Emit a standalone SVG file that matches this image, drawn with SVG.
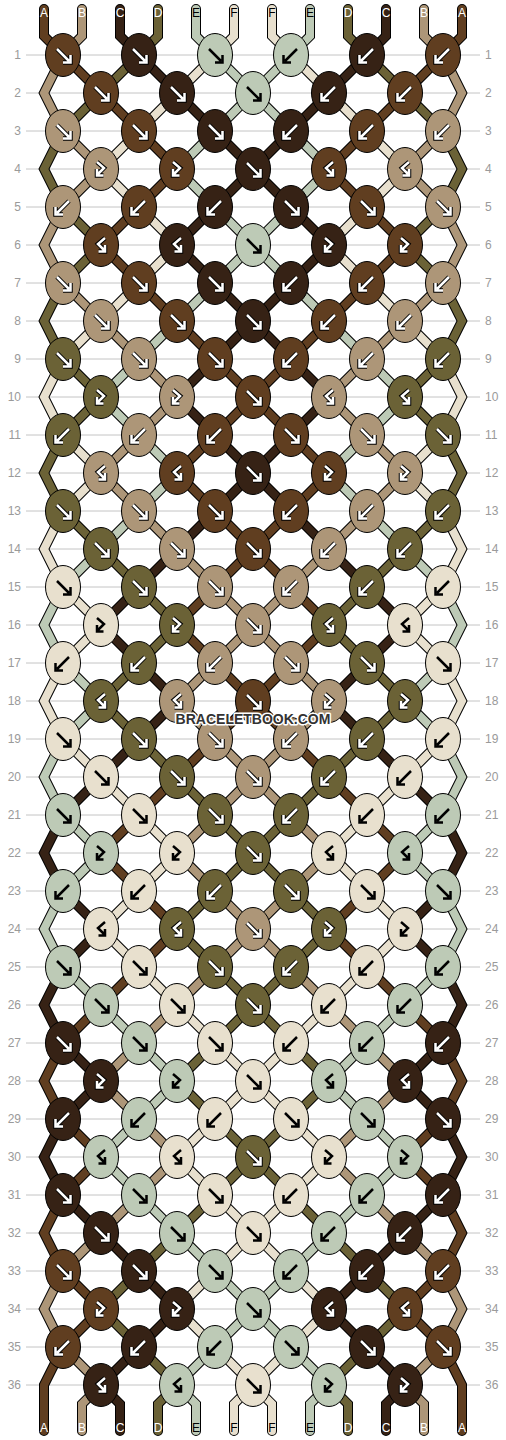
<svg xmlns="http://www.w3.org/2000/svg" xmlns:xlink="http://www.w3.org/1999/xlink" width="506" height="1440" viewBox="0 0 506 1440">
<style>
.rn{font-family:"Liberation Sans",Arial,sans-serif;font-size:12px;fill:#9a9a9a}
.sl{font-family:"Liberation Sans",Arial,sans-serif;font-size:12px;text-anchor:middle}
.A{fill:#603e20}.B{fill:#ad9678}.C{fill:#362215}.D{fill:#6b6236}.E{fill:#bdcab6}.F{fill:#e8e0ce}
.ao{fill:none;stroke:#000;stroke-width:4.5}
.aw{fill:none;stroke:#fff;stroke-width:2.5}
.ak{fill:none;stroke:#000;stroke-width:2.5}
</style>
<defs>
<ellipse id="ov" rx="17.5" ry="21.5" stroke="#000" stroke-width="1"/>
<path id="pf" d="M-6,-6 L6,6 M7.5,0 L7.5,7.5 L0,7.5"/>
<path id="pb" d="M6,-6 L-6,6 M-7.5,0 L-7.5,7.5 L0,7.5"/>
<path id="pfb" d="M-4,-7 L3,-1 L-3,5 M-4,0 L-4,6.5 L2.5,6.5"/>
<path id="pbf" d="M4,-7 L-3,-1 L3,5 M4,0 L4,6.5 L-2.5,6.5"/>
<g id="wf"><use href="#pf" class="ao"/><use href="#pf" class="aw"/></g>
<g id="wb"><use href="#pb" class="ao"/><use href="#pb" class="aw"/></g>
<g id="wfb"><use href="#pfb" class="ao"/><use href="#pfb" class="aw"/></g>
<g id="wbf"><use href="#pbf" class="ao"/><use href="#pbf" class="aw"/></g>
<g id="kf"><use href="#pf" class="ak"/></g>
<g id="kb"><use href="#pb" class="ak"/></g>
<g id="kfb"><use href="#pfb" class="ak"/></g>
<g id="kbf"><use href="#pbf" class="ak"/></g>
<g id="tA">
<path d="M44,9 44,36 63,55"/><path d="M63,1043 44,1081 63,1119"/><path d="M63,1195 44,1233 63,1271"/><path d="M63,1347 44,1385 44,1431"/>
<path d="M63,55 101,93"/><path d="M101,1005 63,1043"/><path d="M63,1119 101,1157 63,1195"/><path d="M63,1271 101,1309 63,1347"/>
<path d="M101,93 139,131"/><path d="M139,207 101,245 139,283"/><path d="M139,815 101,853 139,891"/><path d="M139,967 101,1005"/>
<path d="M139,131 177,169 139,207"/><path d="M139,283 177,321"/><path d="M177,777 139,815"/><path d="M139,891 177,929 139,967"/>
<path d="M177,321 215,359"/><path d="M215,435 177,473 215,511"/><path d="M215,587 177,625 215,663"/><path d="M215,739 177,777"/>
<path d="M215,359 253,397 215,435"/><path d="M215,511 253,549 215,587"/><path d="M215,663 253,701 215,739"/>
</g>
<g id="tB">
<path d="M63,55 44,93 63,131"/><path d="M63,207 44,245 63,283"/><path d="M63,1271 44,1309 63,1347"/>
<path d="M82,9 82,36 63,55"/><path d="M63,131 101,169 63,207"/><path d="M63,283 101,321"/><path d="M101,1233 63,1271"/><path d="M63,1347 101,1385 82,1404 82,1431"/>
<path d="M101,321 139,359"/><path d="M139,435 101,473 139,511"/><path d="M139,1043 101,1081 139,1119"/><path d="M139,1195 101,1233"/>
<path d="M139,359 177,397 139,435"/><path d="M139,511 177,549"/><path d="M177,1005 139,1043"/><path d="M139,1119 177,1157 139,1195"/>
<path d="M177,549 215,587"/><path d="M215,663 177,701 215,739"/><path d="M215,815 177,853 215,891"/><path d="M215,967 177,1005"/>
<path d="M215,587 253,625 215,663"/><path d="M215,739 253,777 215,815"/><path d="M215,891 253,929 215,967"/>
</g>
<g id="tC">
<path d="M63,815 44,853 63,891"/><path d="M63,967 44,1005 63,1043"/><path d="M63,1119 44,1157 63,1195"/>
<path d="M101,777 63,815"/><path d="M63,891 101,929 63,967"/><path d="M63,1043 101,1081 63,1119"/><path d="M63,1195 101,1233"/>
<path d="M120,9 120,36 139,55"/><path d="M139,587 101,625 139,663"/><path d="M139,739 101,777"/><path d="M101,1233 139,1271"/><path d="M139,1347 101,1385 120,1404 120,1431"/>
<path d="M139,55 177,93"/><path d="M177,549 139,587"/><path d="M139,663 177,701 139,739"/><path d="M139,1271 177,1309 139,1347"/>
<path d="M177,93 215,131"/><path d="M215,207 177,245 215,283"/><path d="M215,359 177,397 215,435"/><path d="M215,511 177,549"/>
<path d="M215,131 253,169 215,207"/><path d="M215,283 253,321 215,359"/><path d="M215,435 253,473 215,511"/>
</g>
<g id="tD">
<path d="M63,131 44,169 63,207"/><path d="M63,283 44,321 63,359"/><path d="M63,435 44,473 63,511"/>
<path d="M101,93 63,131"/><path d="M63,207 101,245 63,283"/><path d="M63,359 101,397 63,435"/><path d="M63,511 101,549"/>
<path d="M139,55 101,93"/><path d="M101,549 139,587"/><path d="M139,663 101,701 139,739"/><path d="M139,1271 101,1309 139,1347"/>
<path d="M158,9 158,36 139,55"/><path d="M139,587 177,625 139,663"/><path d="M139,739 177,777"/><path d="M177,1233 139,1271"/><path d="M139,1347 177,1385 158,1404 158,1431"/>
<path d="M177,777 215,815"/><path d="M215,891 177,929 215,967"/><path d="M215,1043 177,1081 215,1119"/><path d="M215,1195 177,1233"/>
<path d="M215,815 253,853 215,891"/><path d="M215,967 253,1005 215,1043"/><path d="M215,1119 253,1157 215,1195"/>
</g>
<g id="tE">
<path d="M63,587 44,625 63,663"/><path d="M63,739 44,777 63,815"/><path d="M63,891 44,929 63,967"/>
<path d="M101,549 63,587"/><path d="M63,663 101,701 63,739"/><path d="M63,815 101,853 63,891"/><path d="M63,967 101,1005"/>
<path d="M139,359 101,397 139,435"/><path d="M139,511 101,549"/><path d="M101,1005 139,1043"/><path d="M139,1119 101,1157 139,1195"/>
<path d="M177,321 139,359"/><path d="M139,435 177,473 139,511"/><path d="M139,1043 177,1081 139,1119"/><path d="M139,1195 177,1233"/>
<path d="M196,9 196,36 215,55"/><path d="M215,131 177,169 215,207"/><path d="M215,283 177,321"/><path d="M177,1233 215,1271"/><path d="M215,1347 177,1385 196,1404 196,1431"/>
<path d="M215,55 253,93 215,131"/><path d="M215,207 253,245 215,283"/><path d="M215,1271 253,1309 215,1347"/>
</g>
<g id="tF">
<path d="M63,359 44,397 63,435"/><path d="M63,511 44,549 63,587"/><path d="M63,663 44,701 63,739"/>
<path d="M101,321 63,359"/><path d="M63,435 101,473 63,511"/><path d="M63,587 101,625 63,663"/><path d="M63,739 101,777"/>
<path d="M139,131 101,169 139,207"/><path d="M139,283 101,321"/><path d="M101,777 139,815"/><path d="M139,891 101,929 139,967"/>
<path d="M177,93 139,131"/><path d="M139,207 177,245 139,283"/><path d="M139,815 177,853 139,891"/><path d="M139,967 177,1005"/>
<path d="M215,55 177,93"/><path d="M177,1005 215,1043"/><path d="M215,1119 177,1157 215,1195"/><path d="M215,1271 177,1309 215,1347"/>
<path d="M234,9 234,36 215,55"/><path d="M215,1043 253,1081 215,1119"/><path d="M215,1195 253,1233 215,1271"/><path d="M215,1347 253,1385 234,1404 234,1431"/>
</g>
<g id="tAll"><use href="#tA"/><use href="#tB"/><use href="#tC"/><use href="#tD"/><use href="#tE"/><use href="#tF"/></g>
</defs>
<rect width="506" height="1440" fill="#fff"/>
<g id="grid">
<path stroke="#c4c4c4" stroke-width="1" fill="none" d="M26,55H480M26,93H480M26,131H480M26,169H480M26,207H480M26,245H480M26,283H480M26,321H480M26,359H480M26,397H480M26,435H480M26,473H480M26,511H480M26,549H480M26,587H480M26,625H480M26,663H480M26,701H480M26,739H480M26,777H480M26,815H480M26,853H480M26,891H480M26,929H480M26,967H480M26,1005H480M26,1043H480M26,1081H480M26,1119H480M26,1157H480M26,1195H480M26,1233H480M26,1271H480M26,1309H480M26,1347H480M26,1385H480"/>
<g class="rn" text-anchor="end">
<text x="21" y="59">1</text><text x="21" y="97">2</text><text x="21" y="135">3</text><text x="21" y="173">4</text><text x="21" y="211">5</text><text x="21" y="249">6</text><text x="21" y="287">7</text><text x="21" y="325">8</text><text x="21" y="363">9</text><text x="21" y="401">10</text><text x="21" y="439">11</text><text x="21" y="477">12</text><text x="21" y="515">13</text><text x="21" y="553">14</text><text x="21" y="591">15</text><text x="21" y="629">16</text><text x="21" y="667">17</text><text x="21" y="705">18</text><text x="21" y="743">19</text><text x="21" y="781">20</text><text x="21" y="819">21</text><text x="21" y="857">22</text><text x="21" y="895">23</text><text x="21" y="933">24</text><text x="21" y="971">25</text><text x="21" y="1009">26</text><text x="21" y="1047">27</text><text x="21" y="1085">28</text><text x="21" y="1123">29</text><text x="21" y="1161">30</text><text x="21" y="1199">31</text><text x="21" y="1237">32</text><text x="21" y="1275">33</text><text x="21" y="1313">34</text><text x="21" y="1351">35</text><text x="21" y="1389">36</text>
</g>
<g class="rn">
<text x="485" y="59">1</text><text x="485" y="97">2</text><text x="485" y="135">3</text><text x="485" y="173">4</text><text x="485" y="211">5</text><text x="485" y="249">6</text><text x="485" y="287">7</text><text x="485" y="325">8</text><text x="485" y="363">9</text><text x="485" y="401">10</text><text x="485" y="439">11</text><text x="485" y="477">12</text><text x="485" y="515">13</text><text x="485" y="553">14</text><text x="485" y="591">15</text><text x="485" y="629">16</text><text x="485" y="667">17</text><text x="485" y="705">18</text><text x="485" y="743">19</text><text x="485" y="781">20</text><text x="485" y="819">21</text><text x="485" y="857">22</text><text x="485" y="895">23</text><text x="485" y="933">24</text><text x="485" y="971">25</text><text x="485" y="1009">26</text><text x="485" y="1047">27</text><text x="485" y="1085">28</text><text x="485" y="1123">29</text><text x="485" y="1161">30</text><text x="485" y="1199">31</text><text x="485" y="1237">32</text><text x="485" y="1275">33</text><text x="485" y="1313">34</text><text x="485" y="1351">35</text><text x="485" y="1389">36</text>
</g>
</g>
<g id="connectors" fill="none" stroke-linecap="round" stroke-linejoin="miter">
<g stroke="#000" stroke-width="10">
<use href="#tAll"/>
<use href="#tAll" transform="matrix(-1 0 0 1 506 0)"/>
</g>
<g stroke-width="8">
<use href="#tA" stroke="#603e20"/><use href="#tB" stroke="#ad9678"/><use href="#tC" stroke="#362215"/><use href="#tD" stroke="#6b6236"/><use href="#tE" stroke="#bdcab6"/><use href="#tF" stroke="#e8e0ce"/>
<g transform="matrix(-1 0 0 1 506 0)">
<use href="#tA" stroke="#603e20"/><use href="#tB" stroke="#ad9678"/><use href="#tC" stroke="#362215"/><use href="#tD" stroke="#6b6236"/><use href="#tE" stroke="#bdcab6"/><use href="#tF" stroke="#e8e0ce"/>
</g>
</g>
</g>
<g id="string-labels" class="sl">
<text x="44" y="17" fill="#fff">A</text><text x="82" y="17" fill="#fff">B</text><text x="120" y="17" fill="#fff">C</text><text x="158" y="17" fill="#fff">D</text><text x="196" y="17" fill="#000">E</text><text x="234" y="17" fill="#000">F</text><text x="272" y="17" fill="#000">F</text><text x="310" y="17" fill="#000">E</text><text x="348" y="17" fill="#fff">D</text><text x="386" y="17" fill="#fff">C</text><text x="424" y="17" fill="#fff">B</text><text x="462" y="17" fill="#fff">A</text>
<text x="44" y="1432" fill="#fff">A</text><text x="82" y="1432" fill="#fff">B</text><text x="120" y="1432" fill="#fff">C</text><text x="158" y="1432" fill="#fff">D</text><text x="196" y="1432" fill="#000">E</text><text x="234" y="1432" fill="#000">F</text><text x="272" y="1432" fill="#000">F</text><text x="310" y="1432" fill="#000">E</text><text x="348" y="1432" fill="#fff">D</text><text x="386" y="1432" fill="#fff">C</text><text x="424" y="1432" fill="#fff">B</text><text x="462" y="1432" fill="#fff">A</text>
</g>
<g id="knots">
<g id="k1-1" transform="translate(63 55)"><use href="#ov" class="A"/><use href="#wf"/></g>
<g id="k1-2" transform="translate(139 55)"><use href="#ov" class="C"/><use href="#wf"/></g>
<g id="k1-3" transform="translate(215 55)"><use href="#ov" class="E"/><use href="#kf"/></g>
<g id="k1-4" transform="translate(291 55)"><use href="#ov" class="E"/><use href="#kb"/></g>
<g id="k1-5" transform="translate(367 55)"><use href="#ov" class="C"/><use href="#wb"/></g>
<g id="k1-6" transform="translate(443 55)"><use href="#ov" class="A"/><use href="#wb"/></g>
<g id="k2-1" transform="translate(101 93)"><use href="#ov" class="A"/><use href="#wf"/></g>
<g id="k2-2" transform="translate(177 93)"><use href="#ov" class="C"/><use href="#wf"/></g>
<g id="k2-3" transform="translate(253 93)"><use href="#ov" class="E"/><use href="#kf"/></g>
<g id="k2-4" transform="translate(329 93)"><use href="#ov" class="C"/><use href="#wb"/></g>
<g id="k2-5" transform="translate(405 93)"><use href="#ov" class="A"/><use href="#wb"/></g>
<g id="k3-1" transform="translate(63 131)"><use href="#ov" class="B"/><use href="#wf"/></g>
<g id="k3-2" transform="translate(139 131)"><use href="#ov" class="A"/><use href="#wf"/></g>
<g id="k3-3" transform="translate(215 131)"><use href="#ov" class="C"/><use href="#wf"/></g>
<g id="k3-4" transform="translate(291 131)"><use href="#ov" class="C"/><use href="#wb"/></g>
<g id="k3-5" transform="translate(367 131)"><use href="#ov" class="A"/><use href="#wb"/></g>
<g id="k3-6" transform="translate(443 131)"><use href="#ov" class="B"/><use href="#wb"/></g>
<g id="k4-1" transform="translate(101 169)"><use href="#ov" class="B"/><use href="#wfb"/></g>
<g id="k4-2" transform="translate(177 169)"><use href="#ov" class="A"/><use href="#wfb"/></g>
<g id="k4-3" transform="translate(253 169)"><use href="#ov" class="C"/><use href="#wf"/></g>
<g id="k4-4" transform="translate(329 169)"><use href="#ov" class="A"/><use href="#wbf"/></g>
<g id="k4-5" transform="translate(405 169)"><use href="#ov" class="B"/><use href="#wbf"/></g>
<g id="k5-1" transform="translate(63 207)"><use href="#ov" class="B"/><use href="#wb"/></g>
<g id="k5-2" transform="translate(139 207)"><use href="#ov" class="A"/><use href="#wb"/></g>
<g id="k5-3" transform="translate(215 207)"><use href="#ov" class="C"/><use href="#wb"/></g>
<g id="k5-4" transform="translate(291 207)"><use href="#ov" class="C"/><use href="#wf"/></g>
<g id="k5-5" transform="translate(367 207)"><use href="#ov" class="A"/><use href="#wf"/></g>
<g id="k5-6" transform="translate(443 207)"><use href="#ov" class="B"/><use href="#wf"/></g>
<g id="k6-1" transform="translate(101 245)"><use href="#ov" class="A"/><use href="#wbf"/></g>
<g id="k6-2" transform="translate(177 245)"><use href="#ov" class="C"/><use href="#wbf"/></g>
<g id="k6-3" transform="translate(253 245)"><use href="#ov" class="E"/><use href="#kf"/></g>
<g id="k6-4" transform="translate(329 245)"><use href="#ov" class="C"/><use href="#wfb"/></g>
<g id="k6-5" transform="translate(405 245)"><use href="#ov" class="A"/><use href="#wfb"/></g>
<g id="k7-1" transform="translate(63 283)"><use href="#ov" class="B"/><use href="#wf"/></g>
<g id="k7-2" transform="translate(139 283)"><use href="#ov" class="A"/><use href="#wf"/></g>
<g id="k7-3" transform="translate(215 283)"><use href="#ov" class="C"/><use href="#wf"/></g>
<g id="k7-4" transform="translate(291 283)"><use href="#ov" class="C"/><use href="#wb"/></g>
<g id="k7-5" transform="translate(367 283)"><use href="#ov" class="A"/><use href="#wb"/></g>
<g id="k7-6" transform="translate(443 283)"><use href="#ov" class="B"/><use href="#wb"/></g>
<g id="k8-1" transform="translate(101 321)"><use href="#ov" class="B"/><use href="#wf"/></g>
<g id="k8-2" transform="translate(177 321)"><use href="#ov" class="A"/><use href="#wf"/></g>
<g id="k8-3" transform="translate(253 321)"><use href="#ov" class="C"/><use href="#wf"/></g>
<g id="k8-4" transform="translate(329 321)"><use href="#ov" class="A"/><use href="#wb"/></g>
<g id="k8-5" transform="translate(405 321)"><use href="#ov" class="B"/><use href="#wb"/></g>
<g id="k9-1" transform="translate(63 359)"><use href="#ov" class="D"/><use href="#wf"/></g>
<g id="k9-2" transform="translate(139 359)"><use href="#ov" class="B"/><use href="#wf"/></g>
<g id="k9-3" transform="translate(215 359)"><use href="#ov" class="A"/><use href="#wf"/></g>
<g id="k9-4" transform="translate(291 359)"><use href="#ov" class="A"/><use href="#wb"/></g>
<g id="k9-5" transform="translate(367 359)"><use href="#ov" class="B"/><use href="#wb"/></g>
<g id="k9-6" transform="translate(443 359)"><use href="#ov" class="D"/><use href="#wb"/></g>
<g id="k10-1" transform="translate(101 397)"><use href="#ov" class="D"/><use href="#wfb"/></g>
<g id="k10-2" transform="translate(177 397)"><use href="#ov" class="B"/><use href="#wfb"/></g>
<g id="k10-3" transform="translate(253 397)"><use href="#ov" class="A"/><use href="#wf"/></g>
<g id="k10-4" transform="translate(329 397)"><use href="#ov" class="B"/><use href="#wbf"/></g>
<g id="k10-5" transform="translate(405 397)"><use href="#ov" class="D"/><use href="#wbf"/></g>
<g id="k11-1" transform="translate(63 435)"><use href="#ov" class="D"/><use href="#wb"/></g>
<g id="k11-2" transform="translate(139 435)"><use href="#ov" class="B"/><use href="#wb"/></g>
<g id="k11-3" transform="translate(215 435)"><use href="#ov" class="A"/><use href="#wb"/></g>
<g id="k11-4" transform="translate(291 435)"><use href="#ov" class="A"/><use href="#wf"/></g>
<g id="k11-5" transform="translate(367 435)"><use href="#ov" class="B"/><use href="#wf"/></g>
<g id="k11-6" transform="translate(443 435)"><use href="#ov" class="D"/><use href="#wf"/></g>
<g id="k12-1" transform="translate(101 473)"><use href="#ov" class="B"/><use href="#wbf"/></g>
<g id="k12-2" transform="translate(177 473)"><use href="#ov" class="A"/><use href="#wbf"/></g>
<g id="k12-3" transform="translate(253 473)"><use href="#ov" class="C"/><use href="#wf"/></g>
<g id="k12-4" transform="translate(329 473)"><use href="#ov" class="A"/><use href="#wfb"/></g>
<g id="k12-5" transform="translate(405 473)"><use href="#ov" class="B"/><use href="#wfb"/></g>
<g id="k13-1" transform="translate(63 511)"><use href="#ov" class="D"/><use href="#wf"/></g>
<g id="k13-2" transform="translate(139 511)"><use href="#ov" class="B"/><use href="#wf"/></g>
<g id="k13-3" transform="translate(215 511)"><use href="#ov" class="A"/><use href="#wf"/></g>
<g id="k13-4" transform="translate(291 511)"><use href="#ov" class="A"/><use href="#wb"/></g>
<g id="k13-5" transform="translate(367 511)"><use href="#ov" class="B"/><use href="#wb"/></g>
<g id="k13-6" transform="translate(443 511)"><use href="#ov" class="D"/><use href="#wb"/></g>
<g id="k14-1" transform="translate(101 549)"><use href="#ov" class="D"/><use href="#wf"/></g>
<g id="k14-2" transform="translate(177 549)"><use href="#ov" class="B"/><use href="#wf"/></g>
<g id="k14-3" transform="translate(253 549)"><use href="#ov" class="A"/><use href="#wf"/></g>
<g id="k14-4" transform="translate(329 549)"><use href="#ov" class="B"/><use href="#wb"/></g>
<g id="k14-5" transform="translate(405 549)"><use href="#ov" class="D"/><use href="#wb"/></g>
<g id="k15-1" transform="translate(63 587)"><use href="#ov" class="F"/><use href="#kf"/></g>
<g id="k15-2" transform="translate(139 587)"><use href="#ov" class="D"/><use href="#wf"/></g>
<g id="k15-3" transform="translate(215 587)"><use href="#ov" class="B"/><use href="#wf"/></g>
<g id="k15-4" transform="translate(291 587)"><use href="#ov" class="B"/><use href="#wb"/></g>
<g id="k15-5" transform="translate(367 587)"><use href="#ov" class="D"/><use href="#wb"/></g>
<g id="k15-6" transform="translate(443 587)"><use href="#ov" class="F"/><use href="#kb"/></g>
<g id="k16-1" transform="translate(101 625)"><use href="#ov" class="F"/><use href="#kfb"/></g>
<g id="k16-2" transform="translate(177 625)"><use href="#ov" class="D"/><use href="#wfb"/></g>
<g id="k16-3" transform="translate(253 625)"><use href="#ov" class="B"/><use href="#wf"/></g>
<g id="k16-4" transform="translate(329 625)"><use href="#ov" class="D"/><use href="#wbf"/></g>
<g id="k16-5" transform="translate(405 625)"><use href="#ov" class="F"/><use href="#kbf"/></g>
<g id="k17-1" transform="translate(63 663)"><use href="#ov" class="F"/><use href="#kb"/></g>
<g id="k17-2" transform="translate(139 663)"><use href="#ov" class="D"/><use href="#wb"/></g>
<g id="k17-3" transform="translate(215 663)"><use href="#ov" class="B"/><use href="#wb"/></g>
<g id="k17-4" transform="translate(291 663)"><use href="#ov" class="B"/><use href="#wf"/></g>
<g id="k17-5" transform="translate(367 663)"><use href="#ov" class="D"/><use href="#wf"/></g>
<g id="k17-6" transform="translate(443 663)"><use href="#ov" class="F"/><use href="#kf"/></g>
<g id="k18-1" transform="translate(101 701)"><use href="#ov" class="D"/><use href="#wbf"/></g>
<g id="k18-2" transform="translate(177 701)"><use href="#ov" class="B"/><use href="#wbf"/></g>
<g id="k18-3" transform="translate(253 701)"><use href="#ov" class="A"/><use href="#wf"/></g>
<g id="k18-4" transform="translate(329 701)"><use href="#ov" class="B"/><use href="#wfb"/></g>
<g id="k18-5" transform="translate(405 701)"><use href="#ov" class="D"/><use href="#wfb"/></g>
<g id="k19-1" transform="translate(63 739)"><use href="#ov" class="F"/><use href="#kf"/></g>
<g id="k19-2" transform="translate(139 739)"><use href="#ov" class="D"/><use href="#wf"/></g>
<g id="k19-3" transform="translate(215 739)"><use href="#ov" class="B"/><use href="#wf"/></g>
<g id="k19-4" transform="translate(291 739)"><use href="#ov" class="B"/><use href="#wb"/></g>
<g id="k19-5" transform="translate(367 739)"><use href="#ov" class="D"/><use href="#wb"/></g>
<g id="k19-6" transform="translate(443 739)"><use href="#ov" class="F"/><use href="#kb"/></g>
<g id="k20-1" transform="translate(101 777)"><use href="#ov" class="F"/><use href="#kf"/></g>
<g id="k20-2" transform="translate(177 777)"><use href="#ov" class="D"/><use href="#wf"/></g>
<g id="k20-3" transform="translate(253 777)"><use href="#ov" class="B"/><use href="#wf"/></g>
<g id="k20-4" transform="translate(329 777)"><use href="#ov" class="D"/><use href="#wb"/></g>
<g id="k20-5" transform="translate(405 777)"><use href="#ov" class="F"/><use href="#kb"/></g>
<g id="k21-1" transform="translate(63 815)"><use href="#ov" class="E"/><use href="#kf"/></g>
<g id="k21-2" transform="translate(139 815)"><use href="#ov" class="F"/><use href="#kf"/></g>
<g id="k21-3" transform="translate(215 815)"><use href="#ov" class="D"/><use href="#wf"/></g>
<g id="k21-4" transform="translate(291 815)"><use href="#ov" class="D"/><use href="#wb"/></g>
<g id="k21-5" transform="translate(367 815)"><use href="#ov" class="F"/><use href="#kb"/></g>
<g id="k21-6" transform="translate(443 815)"><use href="#ov" class="E"/><use href="#kb"/></g>
<g id="k22-1" transform="translate(101 853)"><use href="#ov" class="E"/><use href="#kfb"/></g>
<g id="k22-2" transform="translate(177 853)"><use href="#ov" class="F"/><use href="#kfb"/></g>
<g id="k22-3" transform="translate(253 853)"><use href="#ov" class="D"/><use href="#wf"/></g>
<g id="k22-4" transform="translate(329 853)"><use href="#ov" class="F"/><use href="#kbf"/></g>
<g id="k22-5" transform="translate(405 853)"><use href="#ov" class="E"/><use href="#kbf"/></g>
<g id="k23-1" transform="translate(63 891)"><use href="#ov" class="E"/><use href="#kb"/></g>
<g id="k23-2" transform="translate(139 891)"><use href="#ov" class="F"/><use href="#kb"/></g>
<g id="k23-3" transform="translate(215 891)"><use href="#ov" class="D"/><use href="#wb"/></g>
<g id="k23-4" transform="translate(291 891)"><use href="#ov" class="D"/><use href="#wf"/></g>
<g id="k23-5" transform="translate(367 891)"><use href="#ov" class="F"/><use href="#kf"/></g>
<g id="k23-6" transform="translate(443 891)"><use href="#ov" class="E"/><use href="#kf"/></g>
<g id="k24-1" transform="translate(101 929)"><use href="#ov" class="F"/><use href="#kbf"/></g>
<g id="k24-2" transform="translate(177 929)"><use href="#ov" class="D"/><use href="#wbf"/></g>
<g id="k24-3" transform="translate(253 929)"><use href="#ov" class="B"/><use href="#wf"/></g>
<g id="k24-4" transform="translate(329 929)"><use href="#ov" class="D"/><use href="#wfb"/></g>
<g id="k24-5" transform="translate(405 929)"><use href="#ov" class="F"/><use href="#kfb"/></g>
<g id="k25-1" transform="translate(63 967)"><use href="#ov" class="E"/><use href="#kf"/></g>
<g id="k25-2" transform="translate(139 967)"><use href="#ov" class="F"/><use href="#kf"/></g>
<g id="k25-3" transform="translate(215 967)"><use href="#ov" class="D"/><use href="#wf"/></g>
<g id="k25-4" transform="translate(291 967)"><use href="#ov" class="D"/><use href="#wb"/></g>
<g id="k25-5" transform="translate(367 967)"><use href="#ov" class="F"/><use href="#kb"/></g>
<g id="k25-6" transform="translate(443 967)"><use href="#ov" class="E"/><use href="#kb"/></g>
<g id="k26-1" transform="translate(101 1005)"><use href="#ov" class="E"/><use href="#kf"/></g>
<g id="k26-2" transform="translate(177 1005)"><use href="#ov" class="F"/><use href="#kf"/></g>
<g id="k26-3" transform="translate(253 1005)"><use href="#ov" class="D"/><use href="#wf"/></g>
<g id="k26-4" transform="translate(329 1005)"><use href="#ov" class="F"/><use href="#kb"/></g>
<g id="k26-5" transform="translate(405 1005)"><use href="#ov" class="E"/><use href="#kb"/></g>
<g id="k27-1" transform="translate(63 1043)"><use href="#ov" class="C"/><use href="#wf"/></g>
<g id="k27-2" transform="translate(139 1043)"><use href="#ov" class="E"/><use href="#kf"/></g>
<g id="k27-3" transform="translate(215 1043)"><use href="#ov" class="F"/><use href="#kf"/></g>
<g id="k27-4" transform="translate(291 1043)"><use href="#ov" class="F"/><use href="#kb"/></g>
<g id="k27-5" transform="translate(367 1043)"><use href="#ov" class="E"/><use href="#kb"/></g>
<g id="k27-6" transform="translate(443 1043)"><use href="#ov" class="C"/><use href="#wb"/></g>
<g id="k28-1" transform="translate(101 1081)"><use href="#ov" class="C"/><use href="#wfb"/></g>
<g id="k28-2" transform="translate(177 1081)"><use href="#ov" class="E"/><use href="#kfb"/></g>
<g id="k28-3" transform="translate(253 1081)"><use href="#ov" class="F"/><use href="#kf"/></g>
<g id="k28-4" transform="translate(329 1081)"><use href="#ov" class="E"/><use href="#kbf"/></g>
<g id="k28-5" transform="translate(405 1081)"><use href="#ov" class="C"/><use href="#wbf"/></g>
<g id="k29-1" transform="translate(63 1119)"><use href="#ov" class="C"/><use href="#wb"/></g>
<g id="k29-2" transform="translate(139 1119)"><use href="#ov" class="E"/><use href="#kb"/></g>
<g id="k29-3" transform="translate(215 1119)"><use href="#ov" class="F"/><use href="#kb"/></g>
<g id="k29-4" transform="translate(291 1119)"><use href="#ov" class="F"/><use href="#kf"/></g>
<g id="k29-5" transform="translate(367 1119)"><use href="#ov" class="E"/><use href="#kf"/></g>
<g id="k29-6" transform="translate(443 1119)"><use href="#ov" class="C"/><use href="#wf"/></g>
<g id="k30-1" transform="translate(101 1157)"><use href="#ov" class="E"/><use href="#kbf"/></g>
<g id="k30-2" transform="translate(177 1157)"><use href="#ov" class="F"/><use href="#kbf"/></g>
<g id="k30-3" transform="translate(253 1157)"><use href="#ov" class="D"/><use href="#wf"/></g>
<g id="k30-4" transform="translate(329 1157)"><use href="#ov" class="F"/><use href="#kfb"/></g>
<g id="k30-5" transform="translate(405 1157)"><use href="#ov" class="E"/><use href="#kfb"/></g>
<g id="k31-1" transform="translate(63 1195)"><use href="#ov" class="C"/><use href="#wf"/></g>
<g id="k31-2" transform="translate(139 1195)"><use href="#ov" class="E"/><use href="#kf"/></g>
<g id="k31-3" transform="translate(215 1195)"><use href="#ov" class="F"/><use href="#kf"/></g>
<g id="k31-4" transform="translate(291 1195)"><use href="#ov" class="F"/><use href="#kb"/></g>
<g id="k31-5" transform="translate(367 1195)"><use href="#ov" class="E"/><use href="#kb"/></g>
<g id="k31-6" transform="translate(443 1195)"><use href="#ov" class="C"/><use href="#wb"/></g>
<g id="k32-1" transform="translate(101 1233)"><use href="#ov" class="C"/><use href="#wf"/></g>
<g id="k32-2" transform="translate(177 1233)"><use href="#ov" class="E"/><use href="#kf"/></g>
<g id="k32-3" transform="translate(253 1233)"><use href="#ov" class="F"/><use href="#kf"/></g>
<g id="k32-4" transform="translate(329 1233)"><use href="#ov" class="E"/><use href="#kb"/></g>
<g id="k32-5" transform="translate(405 1233)"><use href="#ov" class="C"/><use href="#wb"/></g>
<g id="k33-1" transform="translate(63 1271)"><use href="#ov" class="A"/><use href="#wf"/></g>
<g id="k33-2" transform="translate(139 1271)"><use href="#ov" class="C"/><use href="#wf"/></g>
<g id="k33-3" transform="translate(215 1271)"><use href="#ov" class="E"/><use href="#kf"/></g>
<g id="k33-4" transform="translate(291 1271)"><use href="#ov" class="E"/><use href="#kb"/></g>
<g id="k33-5" transform="translate(367 1271)"><use href="#ov" class="C"/><use href="#wb"/></g>
<g id="k33-6" transform="translate(443 1271)"><use href="#ov" class="A"/><use href="#wb"/></g>
<g id="k34-1" transform="translate(101 1309)"><use href="#ov" class="A"/><use href="#wfb"/></g>
<g id="k34-2" transform="translate(177 1309)"><use href="#ov" class="C"/><use href="#wfb"/></g>
<g id="k34-3" transform="translate(253 1309)"><use href="#ov" class="E"/><use href="#kf"/></g>
<g id="k34-4" transform="translate(329 1309)"><use href="#ov" class="C"/><use href="#wbf"/></g>
<g id="k34-5" transform="translate(405 1309)"><use href="#ov" class="A"/><use href="#wbf"/></g>
<g id="k35-1" transform="translate(63 1347)"><use href="#ov" class="A"/><use href="#wb"/></g>
<g id="k35-2" transform="translate(139 1347)"><use href="#ov" class="C"/><use href="#wb"/></g>
<g id="k35-3" transform="translate(215 1347)"><use href="#ov" class="E"/><use href="#kb"/></g>
<g id="k35-4" transform="translate(291 1347)"><use href="#ov" class="E"/><use href="#kf"/></g>
<g id="k35-5" transform="translate(367 1347)"><use href="#ov" class="C"/><use href="#wf"/></g>
<g id="k35-6" transform="translate(443 1347)"><use href="#ov" class="A"/><use href="#wf"/></g>
<g id="k36-1" transform="translate(101 1385)"><use href="#ov" class="C"/><use href="#wbf"/></g>
<g id="k36-2" transform="translate(177 1385)"><use href="#ov" class="E"/><use href="#kbf"/></g>
<g id="k36-3" transform="translate(253 1385)"><use href="#ov" class="F"/><use href="#kf"/></g>
<g id="k36-4" transform="translate(329 1385)"><use href="#ov" class="E"/><use href="#kfb"/></g>
<g id="k36-5" transform="translate(405 1385)"><use href="#ov" class="C"/><use href="#wfb"/></g>
</g>
<text id="watermark" x="253" y="724" font-family="'Liberation Sans',Arial,sans-serif" font-weight="bold" font-size="14" text-anchor="middle" fill="#333" stroke="#fff" stroke-width="3" stroke-linejoin="round" paint-order="stroke">BRACELETBOOK.COM</text>
</svg>
